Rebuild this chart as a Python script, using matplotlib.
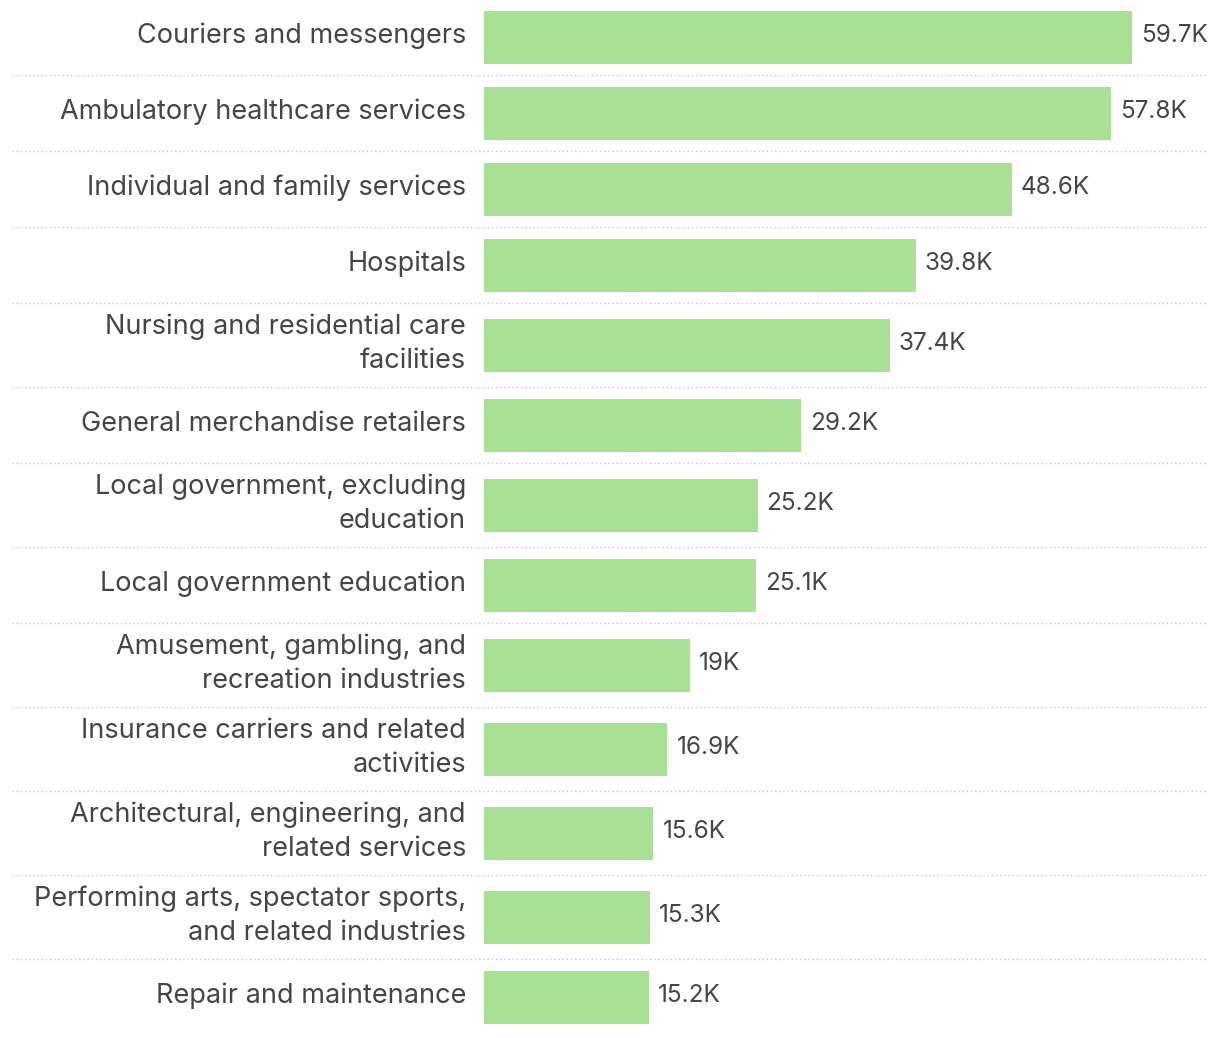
import matplotlib.pyplot as plt
from matplotlib.transforms import offset_copy

industries = [
    "Couriers and messengers",
    "Ambulatory healthcare services",
    "Individual and family services",
    "Hospitals",
    "Nursing and residential care\nfacilities",
    "General merchandise retailers",
    "Local government, excluding\neducation",
    "Local government education",
    "Amusement, gambling, and\nrecreation industries",
    "Insurance carriers and related\nactivities",
    "Architectural, engineering, and\nrelated services",
    "Performing arts, spectator sports,\nand related industries",
    "Repair and maintenance",
]
values = [59.7, 57.8, 48.6, 39.8, 37.4, 29.2, 25.2, 25.1, 19.0, 16.9, 15.6, 15.3, 15.2]
value_labels = ["59.7K", "57.8K", "48.6K", "39.8K", "37.4K", "29.2K", "25.2K",
                "25.1K", "19K", "16.9K", "15.6K", "15.3K", "15.2K"]

W, H = 1220, 1038
BAR_COLOR = "#a8e096"
TEXT_COLOR = "#454545"
plt.rcParams['font.family'] = ['Inter', 'DejaVu Sans']

fig = plt.figure(figsize=(W / 100, H / 100), dpi=100)

# bar axis: x from 484px to 1208px, 10.854 px per K
x0, x1 = 484, 1208
px_per_k = 10.854
ax = fig.add_axes([x0 / W, 0, (x1 - x0) / W, 1])
ax.set_xlim(0, (x1 - x0) / px_per_k)
ax.set_ylim(H, 0)
ax.axis('off')

# row layout (pixel units), taller rows for two-line labels
centers = []
seps = []
top = -1
for lab in industries:
    h = 84 if "\n" in lab else 76
    centers.append(top + h / 2)
    top += h
    seps.append(top)

ax.barh(centers, values, height=53, color=BAR_COLOR, left=0)

label_tr = offset_copy(ax.transData, fig=fig, x=-18, y=0, units='dots')
val_tr = offset_copy(ax.transData, fig=fig, x=9, y=0, units='dots')
for c, lab, v, vl in zip(centers, industries, values, value_labels):
    ax.text(0, c - 1, lab, transform=label_tr, ha='right', va='center',
            fontsize=19.5, color=TEXT_COLOR, linespacing=1.4, clip_on=False)
    ax.text(v, c - 2, vl, transform=val_tr, ha='left', va='center',
            fontsize=17.5, color=TEXT_COLOR, clip_on=False)

# dotted separators across the full width
for s in seps[:-1]:
    fig.add_artist(plt.Line2D([12 / W, 1208 / W], [1 - s / H, 1 - s / H],
                              color="#c8c8c8", lw=1, linestyle=(0, (1, 2))))

fig.savefig("out.png", dpi=100)
